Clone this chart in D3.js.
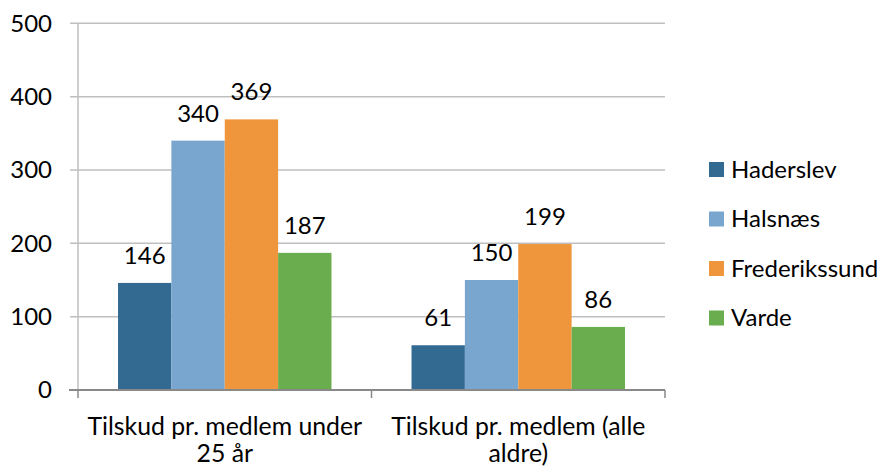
<!DOCTYPE html>
<html>
<head>
<meta charset="utf-8">
<script src="https://cdn.jsdelivr.net/npm/d3@7"></script>
<style>
  body { margin: 0; background: #fff; }
  text { font-family: Lato, "Open Sans", sans-serif; fill: #000; }
</style>
</head>
<body>
<svg id="chart" width="883" height="466"></svg>
<script>
// data
var categories = [["Tilskud pr. medlem under", "25 år"], ["Tilskud pr. medlem (alle", "aldre)"]];
var series = ["Haderslev", "Halsnæs", "Frederikssund", "Varde"];
var values = [
  [146, 340, 369, 187],
  [61, 150, 199, 86]
];
var yTicks = [0, 100, 200, 300, 400, 500];
var colors = ["#336A92", "#78A6CF", "#EF963C", "#69AD4F"];

var margin = {top: 23.3, left: 78, right: 218, bottom: 76};
var width = 883 - margin.left - margin.right,
    height = 466 - margin.top - margin.bottom;
var fs = 24;

var svg = d3.select('#chart');
var chart = svg.append('g')
  .attr('transform', 'translate(' + margin.left + ',' + margin.top + ')');

var x0 = d3.scaleBand().domain(d3.range(categories.length)).range([0, width]);
var x1 = d3.scaleBand().domain(series).range([0, x0.bandwidth()]).paddingOuter(0.75);
var y = d3.scaleLinear().domain([0, 500]).range([height, 0]);

// gridlines
chart.append('g')
  .selectAll('line')
  .data(yTicks.slice(1))
  .enter().append('line')
    .attr('x1', -8).attr('x2', width)
    .attr('y1', function(d) { return y(d); })
    .attr('y2', function(d) { return y(d); })
    .attr('stroke', '#BFBFBF').attr('stroke-width', 1.5);

// y axis line
chart.append('line')
  .attr('x1', 0).attr('x2', 0).attr('y1', 0).attr('y2', height)
  .attr('stroke', '#BFBFBF').attr('stroke-width', 1.5);

// y labels
chart.append('g')
  .selectAll('text')
  .data(yTicks)
  .enter().append('text')
    .attr('x', -26)
    .attr('y', function(d) { return y(d); })
    .attr('dy', '0.35em')
    .attr('text-anchor', 'end')
    .style('font-size', fs + 'px')
    .text(function(d) { return d; });

// bars
var group = chart.selectAll('g.group')
  .data(values)
  .enter().append('g')
    .attr('class', 'group')
    .attr('transform', function(d, i) { return 'translate(' + x0(i) + ',0)'; });

group.selectAll('rect')
  .data(function(d) { return d; })
  .enter().append('rect')
    .attr('x', function(d, i) { return x1(series[i]); })
    .attr('y', function(d) { return y(d); })
    .attr('width', x1.bandwidth())
    .attr('height', function(d) { return height - y(d); })
    .attr('fill', function(d, i) { return colors[i]; });

group.selectAll('text')
  .data(function(d) { return d; })
  .enter().append('text')
    .attr('x', function(d, i) { return x1(series[i]) + x1.bandwidth() / 2; })
    .attr('y', function(d) { return y(d) - 19; })
    .attr('text-anchor', 'middle')
    .style('font-size', fs + 'px')
    .text(function(d) { return d; });

// x axis
chart.append('line')
  .attr('x1', -9).attr('x2', width).attr('y1', height).attr('y2', height)
  .attr('stroke', '#898989').attr('stroke-width', 2);

chart.append('g')
  .selectAll('line')
  .data([0, 1, 2])
  .enter().append('line')
    .attr('x1', function(d) { return d * x0.step(); })
    .attr('x2', function(d) { return d * x0.step(); })
    .attr('y1', height).attr('y2', height + 8)
    .attr('stroke', '#898989').attr('stroke-width', 1.5);

// category labels
var cat = chart.append('g')
  .selectAll('text')
  .data(categories)
  .enter().append('text')
    .attr('text-anchor', 'middle')
    .style('font-size', '24.8px')
    .attr('transform', function(d, i) {
      return 'translate(' + (x0(i) + x0.bandwidth() / 2) + ',' + (height + 45) + ')';
    });
cat.selectAll('tspan')
  .data(function(d) { return d; })
  .enter().append('tspan')
    .attr('x', 0)
    .attr('dy', function(d, i) { return i ? 27 : 0; })
    .text(function(d) { return d; });

// legend
var legend = svg.append('g')
  .attr('transform', 'translate(709,162)');
var item = legend.selectAll('g')
  .data(series)
  .enter().append('g')
    .attr('transform', function(d, i) { return 'translate(0,' + i * 49.5 + ')'; });
item.append('rect')
  .attr('width', 15).attr('height', 15)
  .attr('fill', function(d, i) { return colors[i]; });
item.append('text')
  .attr('x', 22).attr('y', 7.5).attr('dy', '0.35em')
  .style('font-size', fs + 'px')
  .text(function(d) { return d; });
</script>
</body>
</html>
